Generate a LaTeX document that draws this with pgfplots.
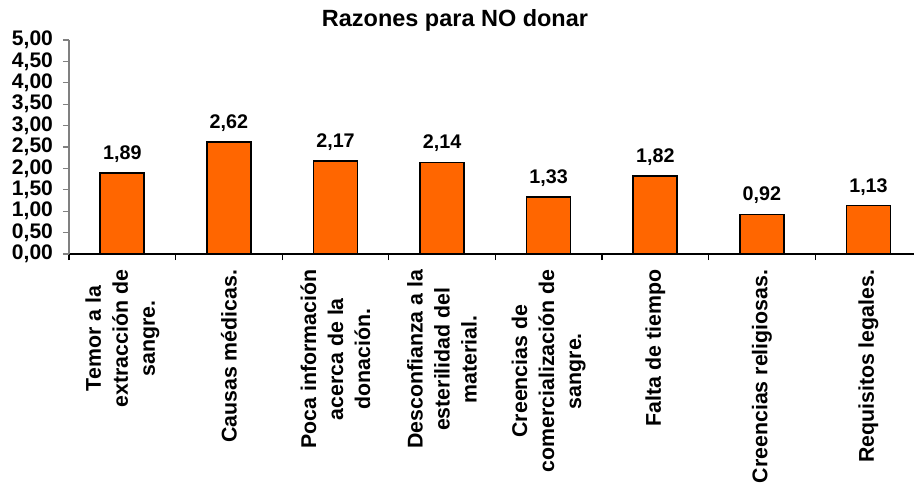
\documentclass[border=0pt]{standalone}
\usepackage{fontspec}
\setmainfont{Liberation Sans}
\usepackage{pgfplots}
\pgfplotsset{compat=1.18}
\definecolor{barorange}{HTML}{FF6600}
\begin{document}
\begin{tikzpicture}
\begin{axis}[
    at={(0,0)}, anchor=south west,
    scale only axis,
    width=633.75pt, height=160.5pt,
    xmin=-0.5, xmax=7.427,
    ymin=0, ymax=5,
    ybar, bar width=33pt,
    axis x line*=bottom, axis y line*=left,
    x axis line style={black, line width=0.8pt},
    y axis line style={gray, line width=0.8pt},
    tick align=outside,
    major tick length=4.5pt, minor tick length=4.5pt,
    xtick={0,...,7},
    xticklabels={
        {Temor a la\\extracción de\\sangre.},
        {Causas médicas.},
        {Poca información\\acerca de la\\donación.},
        {Desconfianza a la\\esterilidad del\\material.},
        {Creencias de\\comercialización de\\sangre.},
        {Falta de tiempo},
        {Creencias religiosas.},
        {Requisitos legales.}},
    major x tick style=transparent,
    minor xtick={-0.5,0.5,...,6.5},
    minor x tick style={black, line width=0.8pt},
    xticklabel shift=3.75pt,
    xticklabel style={rotate=90, anchor=east, align=center,
        font=\fontsize{16}{20.25}\selectfont\bfseries},
    ytick={0,0.5,...,5},
    ytick style={gray, line width=0.8pt},
    yticklabel shift=4pt,
    yticklabel style={font=\fontsize{15.8}{18}\selectfont\bfseries},
    /pgf/number format/.cd, use comma, fixed, fixed zerofill, precision=2, assume math mode=true,
]
    \addplot[fill=barorange, draw=black, line width=1.2pt,
        nodes near coords,
        nodes near coords style={font=\fontsize{14.8}{17}\selectfont\bfseries, text=black, anchor=south, yshift=4pt}]
        coordinates {(0,1.89) (1,2.62) (2,2.17) (3,2.14) (4,1.33) (5,1.82) (6,0.92) (7,1.13)};
\end{axis}
\node[font=\fontsize{17.6}{20}\selectfont\bfseries, anchor=base] at (289.5pt,171pt) {Razones para NO donar};
\pgfresetboundingbox
\path[use as bounding box] (-51.75pt,-177pt) rectangle (633.75pt,190.5pt);
\end{tikzpicture}
\end{document}
